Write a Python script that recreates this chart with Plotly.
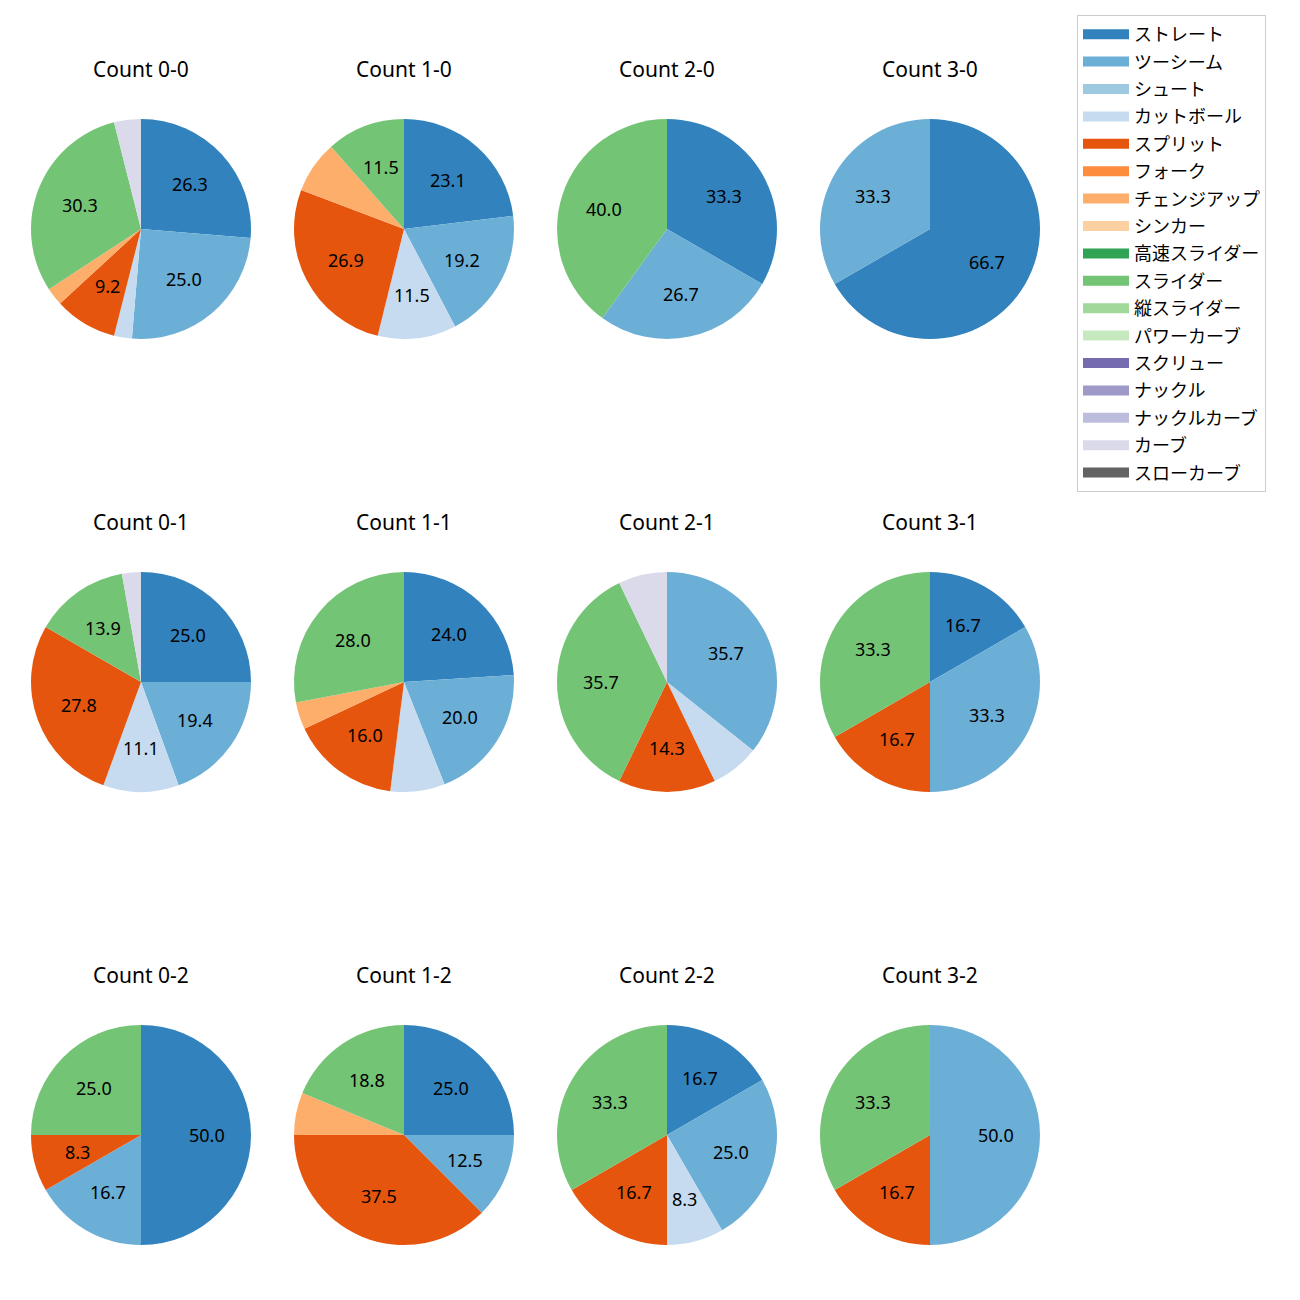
import math
import plotly.graph_objects as go

pitch_types = ["ストレート", "ツーシーム", "シュート", "カットボール", "スプリット", "フォーク",
               "チェンジアップ", "シンカー", "高速スライダー", "スライダー", "縦スライダー",
               "パワーカーブ", "スクリュー", "ナックル", "ナックルカーブ", "カーブ", "スローカーブ"]
colors = ["#3182bd", "#6baed6", "#9ecae1", "#c6dbef", "#e6550d", "#fd8d3c", "#fdae6b", "#fdd0a2",
          "#31a354", "#74c476", "#a1d99b", "#c7e9c0", "#756bb1", "#9e9ac8", "#bcbddc", "#dadaeb",
          "#636363"]

# pitch counts per ball-strike count (order follows pitch_types)
#                 St Tw Sh Ct Sp Fk Ch Sk HS Sl VS PC Sc Kn KC Cv SC
count_0_0 = [20, 19, 0, 2, 7, 0, 2, 0, 0, 23, 0, 0, 0, 0, 0, 3, 0]
count_1_0 = [6, 5, 0, 3, 7, 0, 2, 0, 0, 3, 0, 0, 0, 0, 0, 0, 0]
count_2_0 = [5, 4, 0, 0, 0, 0, 0, 0, 0, 6, 0, 0, 0, 0, 0, 0, 0]
count_3_0 = [2, 1, 0, 0, 0, 0, 0, 0, 0, 0, 0, 0, 0, 0, 0, 0, 0]
count_0_1 = [9, 7, 0, 4, 10, 0, 0, 0, 0, 5, 0, 0, 0, 0, 0, 1, 0]
count_1_1 = [6, 5, 0, 2, 4, 0, 1, 0, 0, 7, 0, 0, 0, 0, 0, 0, 0]
count_2_1 = [0, 5, 0, 1, 2, 0, 0, 0, 0, 5, 0, 0, 0, 0, 0, 1, 0]
count_3_1 = [1, 2, 0, 0, 1, 0, 0, 0, 0, 2, 0, 0, 0, 0, 0, 0, 0]
count_0_2 = [6, 2, 0, 0, 1, 0, 0, 0, 0, 3, 0, 0, 0, 0, 0, 0, 0]
count_1_2 = [4, 2, 0, 0, 6, 0, 1, 0, 0, 3, 0, 0, 0, 0, 0, 0, 0]
count_2_2 = [2, 3, 0, 1, 2, 0, 0, 0, 0, 4, 0, 0, 0, 0, 0, 0, 0]
count_3_2 = [0, 3, 0, 0, 1, 0, 0, 0, 0, 2, 0, 0, 0, 0, 0, 0, 0]

panel_titles = ["Count 0-0", "Count 1-0", "Count 2-0", "Count 3-0",
                "Count 0-1", "Count 1-1", "Count 2-1", "Count 3-1",
                "Count 0-2", "Count 1-2", "Count 2-2", "Count 3-2"]
panel_data = [count_0_0, count_1_0, count_2_0, count_3_0,
              count_0_1, count_1_1, count_2_1, count_3_1,
              count_0_2, count_1_2, count_2_2, count_3_2]

OFF = 8  # default body margin of the html page
W = H = 1300 - OFF
LAT = "Noto Sans, Noto Sans CJK JP, DejaVu Sans"
JP = "Noto Sans CJK JP, Noto Sans, DejaVu Sans"


def px(X):
    return (X - OFF) / W


def py(Y):
    return 1 - (Y - OFF) / H


cx_list = [141, 404, 667, 930]
cy_list = [229, 682, 1135]
R = 110

fig = go.Figure()
annotations = []
for i, (title, vals) in enumerate(zip(panel_titles, panel_data)):
    col, row = i % 4, i // 4
    cx, cy = cx_list[col], cy_list[row]
    labs = [p for p, v in zip(pitch_types, vals) if v > 0]
    cols = [c for c, v in zip(colors, vals) if v > 0]
    vv = [v for v in vals if v > 0]
    tot = sum(vv)
    fig.add_trace(go.Pie(
        labels=labs, values=vv, textinfo="none",
        marker=dict(colors=cols, line=dict(width=0)),
        sort=False, direction="clockwise", rotation=0,
        showlegend=False, hoverinfo="label+percent",
        domain=dict(x=[px(cx - R), px(cx + R)], y=[py(cy + R), py(cy - R)]),
    ))
    cum = 0.0
    for v in vv:
        pct = v / tot * 100
        mid = (cum + v / 2) / tot * 2 * math.pi
        cum += v
        if pct > 8.1:
            lx = cx + 0.6 * R * math.sin(mid)
            ly = cy - 0.6 * R * math.cos(mid)
            annotations.append(dict(text=f"{pct:.1f}", x=px(lx), y=py(ly), xref="paper", yref="paper",
                                    showarrow=False, font=dict(family=LAT, size=18, color="black"),
                                    xanchor="center", yanchor="middle"))
    annotations.append(dict(text=title, x=px(cx), y=py(cy - 160), xref="paper", yref="paper",
                            showarrow=False, font=dict(family=LAT, size=21, color="black"),
                            xanchor="center", yanchor="middle"))

for p, c in zip(pitch_types, colors):
    fig.add_shape(type="line", xref="paper", yref="paper", x0=0, x1=0, y0=0, y1=0,
                  line=dict(color=c, width=14), showlegend=True, name=p, legendgroup=p)

fig.update_layout(
    width=W, height=H,
    margin=dict(l=0, r=0, t=0, b=0),
    paper_bgcolor="white", plot_bgcolor="white",
    xaxis=dict(visible=False), yaxis=dict(visible=False),
    annotations=annotations,
    legend=dict(x=px(1077), y=py(15), xanchor="left", yanchor="top",
                bordercolor="#cccccc", borderwidth=1, bgcolor="white",
                font=dict(family=JP, size=18, color="black"),
                tracegroupgap=1, itemwidth=46),
)

fig.write_html("out.html")
